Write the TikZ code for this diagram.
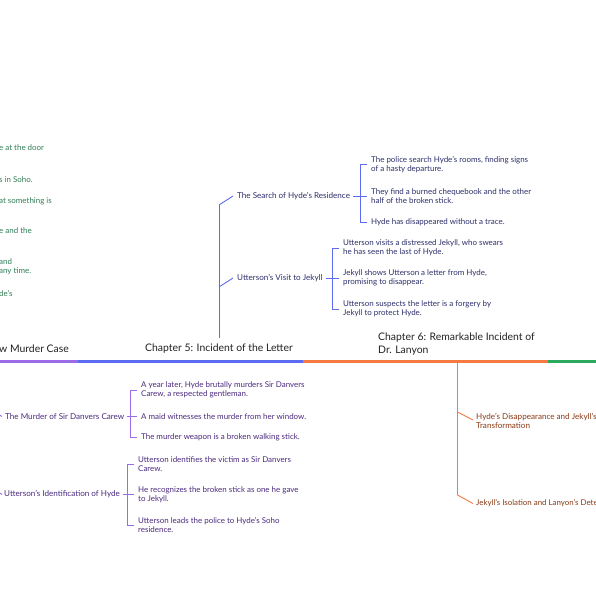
\documentclass[tikz,border=0pt]{standalone}
\usepackage{fontspec}
\setmainfont{Lato}
\definecolor{bline}{HTML}{5C6BF2}
\definecolor{btext}{HTML}{2D2F6B}
\definecolor{pline}{HTML}{9C6BE8}
\definecolor{ptext}{HTML}{4A2A7E}
\definecolor{oline}{HTML}{F47A42}
\definecolor{otext}{HTML}{8B3A16}
\definecolor{gline}{HTML}{2BAA5E}
\definecolor{gtext}{HTML}{2F7D55}
\definecolor{htext}{HTML}{222222}
\tikzset{
  leaf/.style={anchor=west,inner sep=0pt,align=left,font=\fontsize{7.95}{9}\selectfont},
  branch/.style={anchor=west,inner sep=0pt,align=left,font=\fontsize{8.1}{9}\selectfont},
  heading/.style={anchor=west,inner sep=0pt,align=left,text=htext,font=\fontsize{10.4}{13}\selectfont},
  conn/.style={line width=0.9pt},
}
\begin{document}
\begin{tikzpicture}[x=1pt,y=-1pt]
\useasboundingbox (0,0) rectangle (596,596);
\fill[white] (0,0) rectangle (596,596);

% timeline segments
\fill[pline] (0,360.4) rectangle (78,362.6);
\fill[bline] (78,360.4) rectangle (303,362.6);
\fill[oline] (303,360.4) rectangle (548,362.6);
\fill[gline] (548,360.4) rectangle (596,362.6);

% headings
\node[heading] (h4) at (-1,349) {w Murder Case};
\node[heading] (h5) at (145,349) {Chapter 5: Incident of the Letter};
\node[heading] (h6) at (378,344.5) {Chapter 6: Remarkable Incident of\\Dr. Lanyon};

% green fragments (chapter 3 leaves cut at left edge)
\begin{scope}[every node/.style={leaf,text=gtext}]
\node (g1) at (-1,148) {e at the door};
\node (g2) at (-1,180) {s in Soho.};
\node (g3) at (-1,201) {at something is};
\node (g4) at (-1,231) {e and the};
\node (g5) at (-1,267) {and\\any time.};
\node (g6) at (-1,293) {de's};
\end{scope}

% ---------- Chapter 5 (blue) ----------
\coordinate (b0) at (219,338);
\coordinate (bA) at (219,205);
\coordinate (bB) at (219,287);
\draw[conn,bline] (b0) -- (bA);
\node[branch,text=btext] (sr) at (237,196) {The Search of Hyde's Residence};
\node[branch,text=btext] (vj) at (237,278) {Utterson's Visit to Jekyll};
\draw[conn,bline] (bA) -- ([xshift=-4pt]sr.west);
\draw[conn,bline] (bB) -- ([xshift=-4pt]vj.west);

\begin{scope}[every node/.style={leaf,text=btext}]
\node (s1) at (371,164.5) {The police search Hyde's rooms, finding signs\\of a hasty departure.};
\node (s2) at (371,196) {They find a burned chequebook and the other\\half of the broken stick.};
\node (s3) at (371,222) {Hyde has disappeared without a trace.};
\node (v1) at (343,248) {Utterson visits a distressed Jekyll, who swears\\he has seen the last of Hyde.};
\node (v2) at (343,278) {Jekyll shows Utterson a letter from Hyde,\\promising to disappear.};
\node (v3) at (343,309) {Utterson suspects the letter is a forgery by\\Jekyll to protect Hyde.};
\end{scope}
\draw[conn,bline] ([xshift=-4pt]s1.west) -- ++(-7,0) |- ([xshift=-4pt]s3.west);
\draw[conn,bline] ([xshift=3pt]sr.east) -- ([xshift=-4pt]s2.west);
\draw[conn,bline] ([xshift=-4pt]v1.west) -- ++(-7,0) |- ([xshift=-4pt]v3.west);
\draw[conn,bline] ([xshift=3pt]vj.east) -- ([xshift=-4pt]v2.west);

% ---------- Chapter 4 (purple) ----------
\begin{scope}
\clip (0,0) rectangle (596,596);
\coordinate (pA) at (-13,407);
\coordinate (pB) at (-13,485);
\draw[conn,pline] (-13,340) -- (pB);
\node[branch,text=ptext] (mc) at (5,416.5) {The Murder of Sir Danvers Carew};
\node[branch,text=ptext] (ih) at (4,494.5) {Utterson's Identification of Hyde};
\draw[conn,pline] (pA) -- ([xshift=-3pt]mc.west);
\draw[conn,pline] (pB) -- ([xshift=-2pt]ih.west);
\end{scope}
\begin{scope}[every node/.style={leaf,text=ptext}]
\node (m1) at (141,390) {A year later, Hyde brutally murders Sir Danvers\\Carew, a respected gentleman.};
\node (m2) at (141,416.5) {A maid witnesses the murder from her window.};
\node (m3) at (141,437.5) {The murder weapon is a broken walking stick.};
\node (i1) at (138,464) {Utterson identifies the victim as Sir Danvers\\Carew.};
\node (i2) at (138,494.5) {He recognizes the broken stick as one he gave\\to Jekyll.};
\node (i3) at (138,525) {Utterson leads the police to Hyde's Soho\\residence.};
\end{scope}
\draw[conn,pline] ([xshift=-4pt]m1.west) -- ++(-7,0) |- ([xshift=-4pt]m3.west);
\draw[conn,pline] ([xshift=3pt]mc.east) -- ([xshift=-4pt]m2.west);
\draw[conn,pline] ([xshift=-4pt]i1.west) -- ++(-7,0) |- ([xshift=-4pt]i3.west);
\draw[conn,pline] ([xshift=3pt]ih.east) -- ([xshift=-4pt]i2.west);

% ---------- Chapter 6 (orange) ----------
\coordinate (o0) at (457.5,361.5);
\coordinate (oA) at (457.5,412);
\coordinate (oB) at (457.5,495);
\draw[conn,oline] (o0) -- (oB);
\node[branch,text=otext] (hd) at (476,420.5) {Hyde's Disappearance and Jekyll's\\Transformation};
\node[branch,text=otext,font=\fontsize{7.9}{9}\selectfont] (ji) at (476,503.5) {Jekyll's Isolation and Lanyon's Dete};
\draw[conn,oline] (oA) -- ([xshift=-3pt,yshift=0.5pt]hd.west);
\draw[conn,oline] (oB) -- ([xshift=-3pt]ji.west);
\end{tikzpicture}
\end{document}
